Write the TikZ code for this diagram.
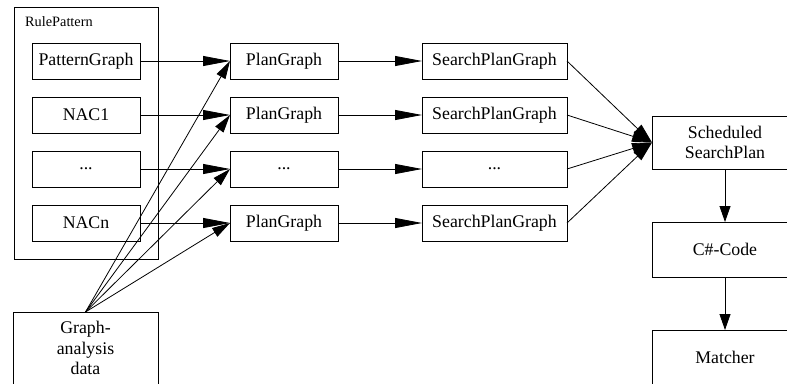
\documentclass[tikz,border=0pt]{standalone}
\usepackage{fontspec}
\setmainfont{Liberation Serif}
\usetikzlibrary{arrows.meta}
\begin{document}
\begin{tikzpicture}[x=1pt,y=-1pt,
  box/.style={draw, line width=0.9pt, rectangle, inner sep=0pt, outer sep=0pt,
    font=\rmfamily\fontsize{17.8}{20.5}\selectfont, align=center},
  flow/.style={line width=0.8pt, -{Triangle[length=27pt,width=10pt]}},
  feed/.style={line width=0.8pt, -{Triangle[length=18pt,width=10pt]}},
  merge/.style={line width=0.8pt, -{Triangle[length=20pt,width=11pt]}},
  down/.style={line width=0.8pt, -{Triangle[length=16pt,width=11pt]}}]
\useasboundingbox (0,0) rectangle (787,383);
\clip (0,0) rectangle (787,383);
\fill[white] (0,0) rectangle (787,383);

% rule pattern container
\node[draw, line width=0.9pt, inner sep=0pt, outer sep=0pt, minimum width=144pt, minimum height=252pt] (rp) at (86,133) {};
\node[anchor=base west, inner sep=0pt, font=\rmfamily\fontsize{14.3}{16}\selectfont] (rplabel) at (25,26) {RulePattern};

% inputs of the rule pattern
\node[box, minimum width=108pt, minimum height=36pt] (pg) at (86,61) {PatternGraph};
\node[box, minimum width=108pt, minimum height=36pt] (n1) at (86,115) {NAC1};
\node[box, minimum width=108pt, minimum height=36pt] (nd) at (86,169) {...};
\node[box, minimum width=108pt, minimum height=36pt] (nn) at (86,223) {NACn};

% plan graphs
\node[box, minimum width=108pt, minimum height=36pt] (p1) at (284,61) {PlanGraph};
\node[box, minimum width=108pt, minimum height=36pt] (p2) at (284,115) {PlanGraph};
\node[box, minimum width=108pt, minimum height=36pt] (p3) at (284,169) {...};
\node[box, minimum width=108pt, minimum height=36pt] (p4) at (284,223) {PlanGraph};

% search plan graphs
\node[box, minimum width=145pt, minimum height=36pt] (s1) at (494.5,61) {SearchPlanGraph};
\node[box, minimum width=145pt, minimum height=36pt] (s2) at (494.5,115) {SearchPlanGraph};
\node[box, minimum width=145pt, minimum height=36pt] (s3) at (494.5,169) {...};
\node[box, minimum width=145pt, minimum height=36pt] (s4) at (494.5,223) {SearchPlanGraph};

% scheduling and code generation
\node[box, minimum width=146pt, minimum height=53pt] (ssp) at (725,142.5) {Scheduled\\SearchPlan};
\node[box, minimum width=146pt, minimum height=55pt] (code) at (725,249.5) {C\#-Code};
\node[box, minimum width=146pt, minimum height=55pt] (match) at (725,357.5) {Matcher};

% graph analysis data
\node[box, minimum width=145pt, minimum height=72pt] (gad) at (85.5,348) {Graph-\\analysis\\data};

% connectors
\draw[flow] (pg.east) -- (p1.west);
\draw[flow] (n1.east) -- (p2.west);
\draw[flow] (nd.east) -- (p3.west);
\draw[flow] (nn.east) -- (p4.west);

\draw[flow] (p1.east) -- (s1.west);
\draw[flow] (p2.east) -- (s2.west);
\draw[flow] (p3.east) -- (s3.west);
\draw[flow] (p4.east) -- (s4.west);

\draw[feed] (gad.north) -- (p1.west);
\draw[feed] (gad.north) -- (p2.west);
\draw[feed] (gad.north) -- (p3.west);
\draw[feed] (gad.north) -- (p4.west);

\draw[merge] (s1.east) -- (ssp.west);
\draw[merge] (s2.east) -- (ssp.west);
\draw[merge] (s3.east) -- (ssp.west);
\draw[merge] (s4.east) -- (ssp.west);

\draw[down] (ssp.south) -- (code.north);
\draw[down] (code.south) -- (match.north);
\end{tikzpicture}
\end{document}
